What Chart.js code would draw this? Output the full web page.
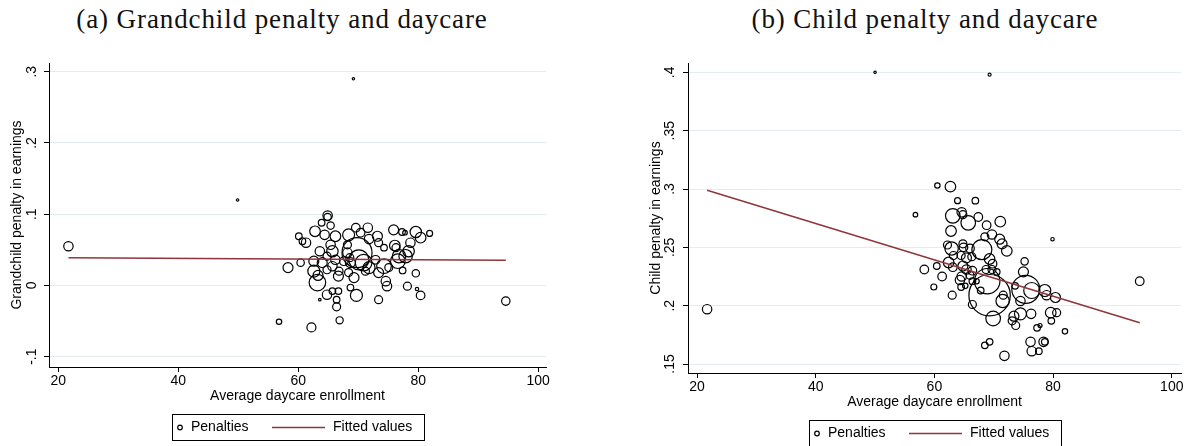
<!DOCTYPE html>
<html><head><meta charset="utf-8">
<script src="https://cdn.jsdelivr.net/npm/chart.js@4.4.1/dist/chart.umd.min.js"></script>
<style>
html,body{margin:0;padding:0;background:#fff;width:1203px;height:446px;overflow:hidden;position:relative}
.t{position:absolute;top:6px;font-family:"Liberation Serif",serif;font-size:27px;line-height:27px;letter-spacing:0.9px;color:#111;white-space:nowrap;text-align:center}
canvas{position:absolute}
</style></head><body>
<div class="t" style="left:72px;width:420px">(a) Grandchild penalty and daycare</div>
<div class="t" style="left:715px;width:420px">(b) Child penalty and daycare</div>
<canvas id="ca" width="600" height="406" style="left:0;top:40px"></canvas>
<canvas id="cb" width="603" height="406" style="left:600px;top:40px"></canvas>
<script>
// ---- Panel (a): Grandchild penalty ----
const xA = [21.7,49.9,69.2,94.6,56.8,62.2,66.9,
64.9,64.9,63.9,65.4,62.8,60.1,60.7,61.3,64.4,66.2,68.4,69.6,70.4,71.6,73.2,75.9,77.3,77.8,79.6,80.4,81.9,
63.6,65.4,65.7,69.8,68.2,73.4,76.1,76.3,78.7,78.4,74.3,
58.3,60.4,62.6,64.0,64.8,66.2,67.6,68.7,70.1,70.9,71.8,72.9,74.3,75.1,76.6,76.8,77.9,
62.6,63.2,63.3,64.8,65.7,66.7,66.8,68.4,69.3,71.2,73.4,74.6,74.8,77.4,79.6,78.2,79.8,80.4,
64.8,65.7,66.7,66.4,66.4,68.7,69.7,73.4,63.6,68.2,71.8,68.6];
const yA = [0.055,0.120,0.290,-0.022,-0.051,-0.059,-0.049,
0.098,0.096,0.088,0.084,0.076,0.069,0.062,0.060,0.071,0.069,0.071,0.081,0.074,0.081,0.069,0.078,0.075,0.074,0.075,0.067,0.073,
0.048,0.057,0.048,0.046,0.046,0.060,0.056,0.053,0.060,0.048,0.053,
0.025,0.032,0.034,0.032,0.041,0.036,0.034,0.032,0.036,0.032,0.025,0.036,0.027,0.025,0.034,0.041,0.041,
0.020,0.004,0.014,0.022,0.027,0.013,0.020,0.018,0.011,0.020,0.018,0.006,-0.001,0.021,0.017,-0.001,-0.005,-0.014,
-0.013,-0.008,-0.008,-0.020,-0.030,-0.003,-0.014,-0.020,-0.020,0.057,0.065,0.039];
const wA = [4.7,1.2,1.2,4.2,2.7,4.5,3.6,
4.7,3.7,3.3,3.7,5.3,3.3,3.3,4.7,4.7,5.3,6,4.3,4.3,4.7,5,5,3.3,2.3,5.7,5.3,3,
4.7,4.7,5.7,15,4.7,4,5.3,4,4.7,5.7,3.3,
5,3.7,5,5,4,4.7,4.3,5,10,8.3,6,4.3,7.3,4,7.3,6.7,6.7,
6,8.3,5,4,4.7,5,4,4,5,4,5,4.7,4.7,3.3,3.7,4,1.7,4.3,
4.7,3.3,3.3,3.3,4,3.3,6,4,1.3,4,4.7,4];
const fitXA = [21.7, 94.6];
const fitYA = [0.0387, 0.0354];
const yTicksA = [-0.1, 0, 0.1, 0.2, 0.3];
const yTickLabelsA = ['-.1', '0', '.1', '.2', '.3'];

// ---- Panel (b): Child penalty ----
const xB = [21.7,94.6,50.0,69.3,
60.5,62.7,63.9,66.9,56.8,63.1,64.6,64.8,65.7,67.4,71.1,62.8,68.8,69.7,68.5,71.0,71.4,72.2,
62.2,62.9,64.8,64.9,66.0,68.0,63.2,62.4,64.5,65.4,66.3,69.3,69.8,58.3,60.4,61.3,59.9,
63.1,64.8,65.4,66.4,64.6,66.0,68.7,69.7,70.5,68.9,69.3,64.3,64.5,65.2,66.4,67.1,63.0,67.8,66.4,69.9,
73.6,75.2,75.0,75.4,76.4,74.5,71.5,71.6,73.4,74.5,73.1,73.7,76.3,78.6,78.9,80.4,79.6,80.6,79.7,77.3,77.8,82.0,79.9,
68.5,69.3,76.2,76.4,77.6,78.4,78.6,71.8];
const yB = [0.197,0.221,0.400,0.398,
0.303,0.302,0.290,0.290,0.278,0.277,0.280,0.278,0.271,0.276,0.272,0.264,0.269,0.261,0.259,0.257,0.253,0.247,
0.252,0.249,0.253,0.250,0.249,0.248,0.243,0.237,0.243,0.241,0.242,0.240,0.236,0.231,0.234,0.225,0.216,
0.233,0.234,0.231,0.230,0.225,0.226,0.231,0.231,0.229,0.221,0.209,0.222,0.216,0.217,0.221,0.221,0.209,0.213,0.201,0.189,
0.217,0.238,0.229,0.214,0.213,0.204,0.204,0.209,0.191,0.193,0.187,0.183,0.193,0.213,0.209,0.207,0.194,0.194,0.187,0.181,0.183,0.178,0.257,
0.166,0.169,0.169,0.161,0.161,0.169,0.169,0.157];
const wB = [4.7,4.3,1.2,1.5,
2.7,5.3,3,3.3,2.3,7.3,4.7,4,7.3,4.3,5.3,5.3,4.3,4.7,4,5,5,5.3,
4,6.7,4,4.3,4.3,10,4,5.3,4,5,4,5.3,4.3,4.3,3.3,4.3,3,
4.3,5,4.7,4.3,4.7,4,4,4,3.3,12.7,20.7,4.7,3.3,2.7,3.3,2.7,4,3.3,4,7.3,
3.3,3.7,5,14,8,4.7,6.7,4,5,6,4,4,4.7,6,4.7,5,5.3,4,3.3,3.3,2,2.7,1.7,
3.3,3.3,4.7,4.7,3.3,4.7,3.3,4.7];
const fitXB = [21.7, 94.6];
const fitYB = [0.2989, 0.1854];
const yTicksB = [0.15, 0.2, 0.25, 0.3, 0.35, 0.4];
const yTickLabelsB = ['.15', '.2', '.25', '.3', '.35', '.4'];

// ---- shared ----
const xTicks = [20, 40, 60, 80, 100];
const xTickLabels = ['20', '40', '60', '80', '100'];
const seriesLabels = ['Penalties', 'Fitted values'];

const MAROON = 'rgb(144,53,59)';
const FONT = '"Liberation Sans", Arial, sans-serif';
Chart.defaults.font.family = FONT;
Chart.defaults.font.size = 14;
Chart.defaults.color = '#000';

const legendPlugin = {
  id: 'stataLegend',
  afterDraw(chart) {
    const ctx = chart.ctx, ca = chart.chartArea;
    const w = 252, h = 26;
    const L = Math.round((ca.left + ca.right) / 2 - w / 2);
    const T = Math.round(ca.bottom + 47);
    ctx.save();
    ctx.strokeStyle = '#000'; ctx.lineWidth = 1;
    ctx.strokeRect(L + 0.5, T + 0.5, w, h);
    const cy = T + h / 2 + 0.5;
    ctx.lineWidth = 1.2;
    ctx.beginPath(); ctx.arc(L + 8, cy, 2.3, 0, Math.PI * 2); ctx.stroke();
    ctx.font = '14px ' + FONT; ctx.fillStyle = '#000';
    ctx.textBaseline = 'middle'; ctx.textAlign = 'left';
    const ds = chart.data.datasets;
    ctx.fillText(ds[1].label, L + 19, cy);
    ctx.strokeStyle = MAROON; ctx.lineWidth = 1.5;
    ctx.beginPath(); ctx.moveTo(L + 100, cy); ctx.lineTo(L + 153, cy); ctx.stroke();
    ctx.fillText(ds[0].label, L + 161, cy);
    ctx.restore();
  }
};

function build(id, xs, ys, ws, fx, fy, xr, yr, yTicks, yLabels, yTitle, pad) {
  const n = Math.min(xs.length, ys.length, ws.length);
  const pts = [];
  for (let i = 0; i < n; i++) pts.push({x: xs[i], y: ys[i], r: ws[i]});
  return new Chart(document.getElementById(id), {
    type: 'bubble',
    data: { datasets: [
      { type: 'line', label: seriesLabels[1], data: fx.map((x, i) => ({x: x, y: fy[i]})),
        borderColor: MAROON, borderWidth: 1.5, pointRadius: 0, fill: false, tension: 0, order: 0 },
      { label: seriesLabels[0], data: pts, backgroundColor: 'rgba(0,0,0,0)',
        borderColor: '#000', borderWidth: 1.2, order: 1 }
    ]},
    options: {
      responsive: false, animation: false, events: [],
      layout: { padding: pad },
      plugins: { legend: { display: false }, tooltip: { enabled: false } },
      scales: {
        x: {
          type: 'linear', position: 'bottom', min: xr[0], max: xr[1],
          afterBuildTicks: s => { s.ticks = xTicks.map(v => ({value: v})); },
          afterFit: s => { s.height = 38; },
          ticks: { callback: (v, i) => xTickLabels[i], padding: 1, color: '#000',
                   font: { size: 14 }, minRotation: 0, maxRotation: 0, autoSkip: false },
          grid: { drawOnChartArea: false, drawTicks: true, tickLength: 5, tickColor: '#000', tickWidth: 1 },
          border: { display: true, color: '#000', width: 1 },
          title: { display: true, text: 'Average daycare enrollment', color: '#000',
                   font: { size: 14 }, padding: { top: 0, bottom: 0 } }
        },
        y: {
          type: 'linear', position: 'left', min: yr[0], max: yr[1],
          afterBuildTicks: s => { s.ticks = yTicks.map(v => ({value: v})); },
          afterFit: s => { s.width = 49; },
          ticks: { callback: (v, i) => yLabels[i], padding: 3.5, color: '#000',
                   font: { size: 14 }, minRotation: 90, maxRotation: 90,
                   crossAlign: 'center', autoSkip: false },
          grid: { color: '#e3ecef', lineWidth: 1, drawTicks: true, tickLength: 5, tickColor: '#000', tickWidth: 1 },
          border: { display: true, color: '#000', width: 1 },
          title: { display: true, text: yTitle, color: '#000', font: { size: 14 },
                   padding: { top: 8.6, bottom: 0 } }
        }
      }
    },
    plugins: [legendPlugin]
  });
}

build('ca', xA, yA, wA, fitXA, fitYA, [18.46, 101.3], [-0.1145, 0.3122],
      yTicksA, yTickLabelsA, 'Grandchild penalty in earnings',
      { left: 0, right: 54, top: 23, bottom: 41 });
build('cb', xB, yB, wB, fitXB, fitYB, [18.48, 101.57], [0.1423, 0.408],
      yTicksB, yTickLabelsB, 'Child penalty in earnings',
      { left: 39, right: 11, top: 23, bottom: 35 });
</script>
</body></html>
